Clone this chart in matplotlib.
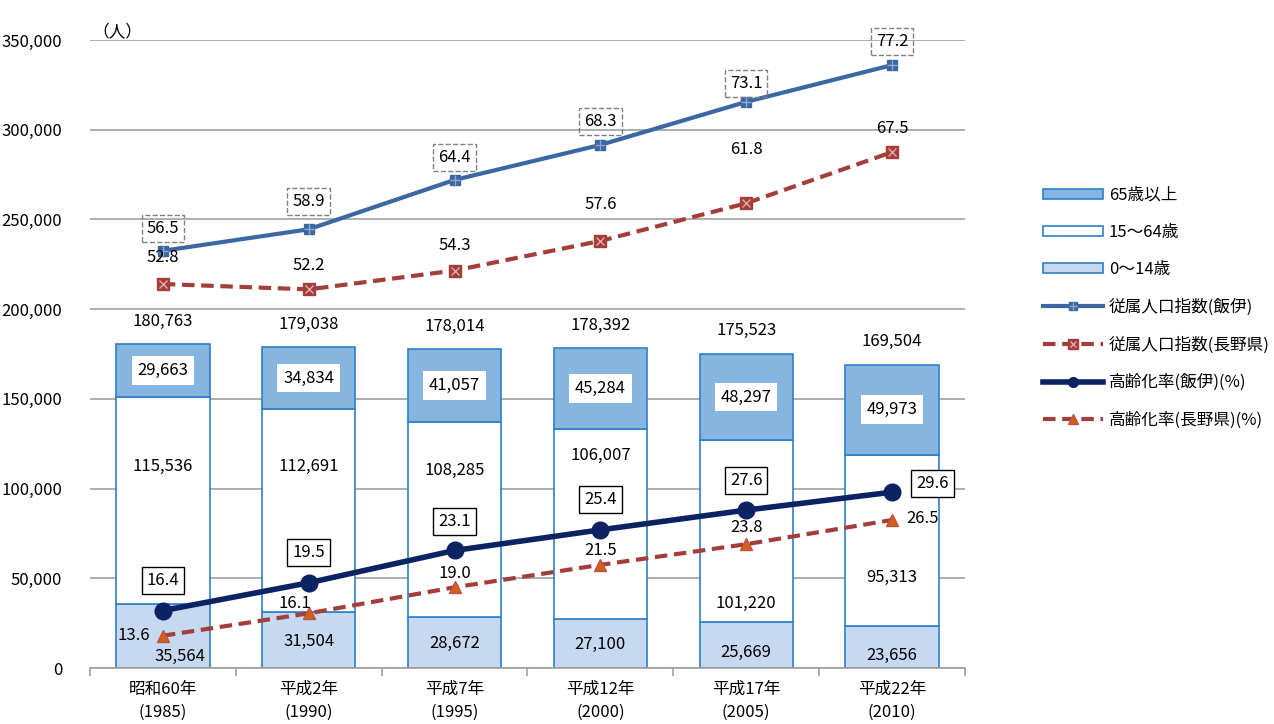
import numpy as np
import matplotlib.pyplot as plt
from matplotlib.ticker import FuncFormatter, FixedLocator
from matplotlib.patches import Patch
from matplotlib.lines import Line2D

plt.rcParams['font.family'] = ['Noto Sans CJK JP', 'DejaVu Sans']

years = ['昭和60年\n(1985)', '平成2年\n(1990)', '平成7年\n(1995)',
         '平成12年\n(2000)', '平成17年\n(2005)', '平成22年\n(2010)']
age_0_14 = [35564, 31504, 28672, 27100, 25669, 23656]
age_15_64 = [115536, 112691, 108285, 106007, 101220, 95313]
age_65 = [29663, 34834, 41057, 45284, 48297, 49973]
totals = [180763, 179038, 178014, 178392, 175523, 169504]

dep_iiyi = [56.5, 58.9, 64.4, 68.3, 73.1, 77.2]
dep_nagano = [52.8, 52.2, 54.3, 57.6, 61.8, 67.5]
aging_iiyi = [16.4, 19.5, 23.1, 25.4, 27.6, 29.6]
aging_nagano = [13.6, 16.1, 19.0, 21.5, 23.8, 26.5]

x = np.arange(len(years))
a0 = np.array(age_0_14)
a1 = np.array(age_15_64)
a2 = np.array(age_65)

fs = 12
fig = plt.figure(figsize=(12.74, 7.24), dpi=100)
ax = fig.add_axes([0.0706, 0.0773, 0.6868, 0.8675])

edge = '#2E7FC8'
w = 0.64
ax.bar(x, a0, w, color='#C6D9F0', edgecolor=edge, lw=1.2, zorder=2)
ax.bar(x, a1, w, bottom=a0, color='white', edgecolor=edge, lw=1.2, zorder=2)
ax.bar(x, a2, w, bottom=a0 + a1, color='#86B6E0', edgecolor=edge, lw=1.2, zorder=2)

ax.set_xlim(-0.5, 5.5)
ax.set_ylim(0, 350000)
ax.yaxis.set_major_locator(FixedLocator(np.arange(0, 350001, 50000)))
ax.yaxis.set_major_formatter(FuncFormatter(lambda v, p: f'{int(v):,}'))
ax.grid(axis='y', color='#A0A0A0', lw=1.2, zorder=0)
ax.set_axisbelow(True)
for s in ['left', 'right', 'top']:
    ax.spines[s].set_visible(False)
ax.spines['bottom'].set_color('#A0A0A0')
ax.spines['bottom'].set_linewidth(1.2)
ax.tick_params(axis='y', length=0, labelsize=fs, pad=20)
ax.set_xticks(x)
ax.set_xticklabels(years, fontsize=fs, linespacing=1.45)
ax.tick_params(axis='x', which='major', length=0, pad=9)
ax.set_xticks(np.arange(-0.5, 6, 1), minor=True)
ax.tick_params(axis='x', which='minor', length=6, color='#A0A0A0', width=1.2)
ax.text(-0.48, 350000, '（人）', fontsize=fs, ha='left', va='bottom')

# bar labels
lab_0_14_y = [6700, 15000, 13900, 13400, 8900, 7200]
lab_0_14_dx = [0.12, 0, 0, 0, 0, 0]
lab_15_64_y = [112600, 112600, 110300, 118700, 36200, 50200]
for i in range(len(x)):
    ax.text(x[i] + lab_0_14_dx[i], lab_0_14_y[i], f'{age_0_14[i]:,}', ha='center', va='center', fontsize=fs, zorder=3)
    ax.text(x[i], lab_15_64_y[i], f'{age_15_64[i]:,}', ha='center', va='center', fontsize=fs, zorder=3)
    ax.text(x[i], a0[i] + a1[i] + a2[i] / 2, f'{age_65[i]:,}', ha='center', va='center', fontsize=fs, zorder=3,
            bbox=dict(boxstyle='square,pad=0.35', fc='white', ec='none'))
    ax.annotate(f'{totals[i]:,}', (x[i], totals[i]), xytext=(0, 16), textcoords='offset points',
                ha='center', va='center', fontsize=fs)

# line series on hidden secondary scale
ax2 = ax.twinx()
ax2.set_ylim(10, 80)
ax2.axis('off')

c_dep = '#3B67A3'
c_red = '#A43E3A'
c_navy = '#0B2363'
dash = (0, (3, 1.6))
ax2.plot(x, dep_iiyi, color=c_dep, lw=3, marker='s', ms=7, zorder=4)
ax2.plot(x, dep_iiyi, ls='none', marker='+', ms=7, mew=1, color='#8FA9D0', zorder=5)
ax2.plot(x, dep_nagano, color=c_red, lw=3, ls=dash, marker='s', ms=8, zorder=4)
ax2.plot(x, dep_nagano, ls='none', marker='x', ms=6, mew=1, color='#E3A9A7', zorder=5)
ax2.plot(x, aging_iiyi, color=c_navy, lw=4, marker='o', ms=12, zorder=4)
ax2.plot(x, aging_nagano, color=c_red, lw=3, ls=dash, marker='^', ms=9,
         mfc='#D2620F', mec='#C0504D', zorder=4)

dep_iiyi_off = [(0, 16), (0, 20), (0, 16), (0, 17), (0, 13), (0, 17)]
dep_nagano_off = [(0, 19), (0, 17), (0, 18), (0, 26), (0, 39), (0, 17)]
aging_iiyi_off = [(0, 22), (0, 22), (0, 21), (0, 22), (0, 21), (29, 6)]
aging_nagano_off = [(-21, 0), (-10, 7), (0, 10), (0, 10), (0, 12), (22, 1)]
for i in range(len(x)):
    ax2.annotate(f'{dep_iiyi[i]:.1f}', (x[i], dep_iiyi[i]), xytext=dep_iiyi_off[i], textcoords='offset points',
                 ha='center', va='center', fontsize=fs, zorder=6,
                 bbox=dict(boxstyle='square,pad=0.3', fc='none', ec='#808080', ls='--', lw=1))
    ax2.annotate(f'{dep_nagano[i]:.1f}', (x[i], dep_nagano[i]), xytext=dep_nagano_off[i], textcoords='offset points',
                 ha='center', va='center', fontsize=fs, zorder=6)
    ax2.annotate(f'{aging_iiyi[i]:.1f}', (x[i], aging_iiyi[i]), xytext=aging_iiyi_off[i], textcoords='offset points',
                 ha='center', va='center', fontsize=fs, zorder=6,
                 bbox=dict(boxstyle='square,pad=0.3', fc='white', ec='black', lw=1))
    ax2.annotate(f'{aging_nagano[i]:.1f}', (x[i], aging_nagano[i]), xytext=aging_nagano_off[i], textcoords='offset points',
                 ha='center', va='center', fontsize=fs, zorder=6)

# legend proxies (smaller markers than the plot)
h1 = (Line2D([], [], color=c_dep, lw=3, marker='s', ms=6),
      Line2D([], [], ls='none', marker='+', ms=6, mew=1, color='#8FA9D0'))
h2 = (Line2D([], [], color=c_red, lw=3, ls=dash, marker='s', ms=7),
      Line2D([], [], ls='none', marker='x', ms=5, mew=1, color='#E3A9A7'))
h3 = Line2D([], [], color=c_navy, lw=4, marker='o', ms=7)
h4 = Line2D([], [], color=c_red, lw=3, ls=dash, marker='^', ms=7, mfc='#D2620F', mec='#C0504D')
handles = [Patch(fc='#86B6E0', ec=edge, lw=1.2), Patch(fc='white', ec=edge, lw=1.2),
           Patch(fc='#C6D9F0', ec=edge, lw=1.2), h1, h2, h3, h4]
labels = ['65歳以上', '15～64歳', '0～14歳', '従属人口指数(飯伊)', '従属人口指数(長野県)',
          '高齢化率(飯伊)(%)', '高齢化率(長野県)(%)']
fig.legend(handles, labels, loc='upper left', bbox_to_anchor=(0.807, 0.763), frameon=False,
           fontsize=12, handlelength=3.6, handleheight=0.55, labelspacing=1.22, handletextpad=0.35)

fig.savefig('out.png', dpi=100)
